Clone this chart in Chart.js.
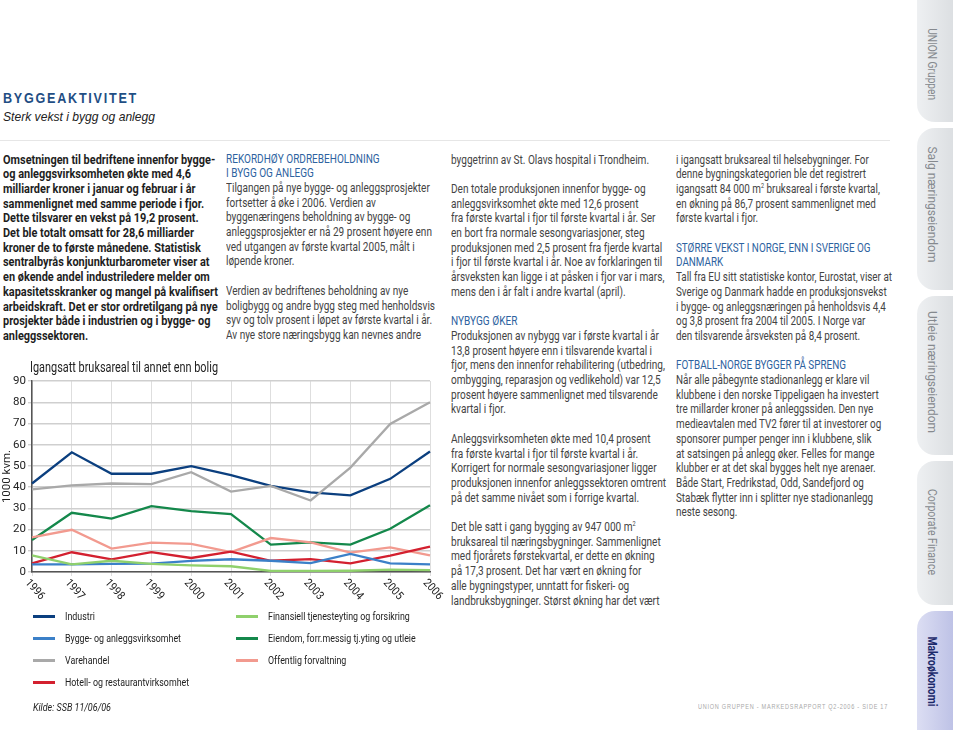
<!DOCTYPE html>
<html>
<head>
<meta charset="utf-8">
<script src="https://cdn.jsdelivr.net/npm/chart.js@4.4.1/dist/chart.umd.min.js"></script>
<style>
  html,body{margin:0;padding:0;background:#fff;}
  body{width:960px;height:730px;position:relative;overflow:hidden;font-family:'Roboto','Liberation Sans',sans-serif;}
  .abs{position:absolute;white-space:nowrap;}
  .col{position:absolute;white-space:nowrap;font-size:12.6px;line-height:14.7px;color:#444;}
  .col1{color:#1e1e1e;font-weight:bold;}
  .hd{color:#2d62a0;}
  sup{font-size:7px;line-height:0;vertical-align:5px;}
  .tab{position:absolute;left:917px;width:36px;border-radius:18px 0 0 18px;background:linear-gradient(90deg,#eef0f2,#dcdfe2);}
  .tabtxt{position:absolute;writing-mode:vertical-rl;font-size:12.5px;line-height:14px;color:#85898e;white-space:nowrap;}
  .leg{position:absolute;font-size:11.5px;line-height:14px;color:#222;white-space:nowrap;}
  .leg i{position:absolute;left:-32px;top:6px;width:22px;height:2.5px;}
  .leg span{display:inline-block;}
</style>
</head>
<body>
<div class="abs" style="left:0;top:140px;width:890px;height:1px;background:#e6e6e6"></div>
<div class="abs fit" data-w="135" style="left:3px;top:90px;font-family:'Liberation Sans',Arial,sans-serif;font-weight:bold;font-size:14.5px;letter-spacing:2px;color:#1f4e84">BYGGEAKTIVITET</div>
<div class="abs fit" data-w="152" style="left:3px;top:109px;font-family:'Liberation Sans',Arial,sans-serif;font-style:italic;font-size:13px;color:#222">Sterk vekst i bygg og anlegg</div>

<div class="col col1 fit" data-w="215" style="left:3px;top:152.5px">Omsetningen til bedriftene innenfor bygge-<br>og anleggsvirksomheten økte med 4,6<br>milliarder kroner i januar og februar i år<br>sammenlignet med samme periode i fjor.<br>Dette tilsvarer en vekst på 19,2 prosent.<br>Det ble totalt omsatt for 28,6 milliarder<br>kroner de to første månedene. Statistisk<br>sentralbyrås konjunkturbarometer viser at<br>en økende andel industriledere melder om<br>kapasitetsskranker og mangel på kvalifisert<br>arbeidskraft. Det er stor ordretilgang på nye<br>prosjekter både i industrien og i bygge- og<br>anleggssektoren.</div>

<div class="col fit" data-w="209" style="left:226px;top:151.5px"><span class="hd">REKORDHØY ORDREBEHOLDNING<br>I BYGG OG ANLEGG</span><br>Tilgangen på nye bygge- og anleggsprosjekter<br>fortsetter å øke i 2006. Verdien av<br>byggenæringens beholdning av bygge- og<br>anleggsprosjekter er nå 29 prosent høyere enn<br>ved utgangen av første kvartal 2005, målt i<br>løpende kroner.<br><br>Verdien av bedriftenes beholdning av nye<br>boligbygg og andre bygg steg med henholdsvis<br>syv og tolv prosent i løpet av første kvartal i år.<br>Av nye store næringsbygg kan nevnes andre</div>

<div class="col fit" data-w="215" style="left:451px;top:152.5px">byggetrinn av St. Olavs hospital i Trondheim.<br><br>Den totale produksjonen innenfor bygge- og<br>anleggsvirksomhet økte med 12,6 prosent<br>fra første kvartal i fjor til første kvartal i år. Ser<br>en bort fra normale sesongvariasjoner, steg<br>produksjonen med 2,5 prosent fra fjerde kvartal<br>i fjor til første kvartal i år. Noe av forklaringen til<br>årsveksten kan ligge i at påsken i fjor var i mars,<br>mens den i år falt i andre kvartal (april).<br><br><span class="hd">NYBYGG ØKER</span><br>Produksjonen av nybygg var i første kvartal i år<br>13,8 prosent høyere enn i tilsvarende kvartal i<br>fjor, mens den innenfor rehabilitering (utbedring,<br>ombygging, reparasjon og vedlikehold) var 12,5<br>prosent høyere sammenlignet med tilsvarende<br>kvartal i fjor.<br><br>Anleggsvirksomheten økte med 10,4 prosent<br>fra første kvartal i fjor til første kvartal i år.<br>Korrigert for normale sesongvariasjoner ligger<br>produksjonen innenfor anleggssektoren omtrent<br>på det samme nivået som i forrige kvartal.<br><br>Det ble satt i gang bygging av 947 000 m<sup>2</sup><br>bruksareal til næringsbygninger. Sammenlignet<br>med fjorårets førstekvartal, er dette en økning<br>på 17,3 prosent. Det har vært en økning for<br>alle bygningstyper, unntatt for fiskeri- og<br>landbruksbygninger. Størst økning har det vært</div>

<div class="col fit" data-w="216" style="left:676px;top:152.5px">i igangsatt bruksareal til helsebygninger. For<br>denne bygningskategorien ble det registrert<br>igangsatt 84 000 m<sup>2</sup> bruksareal i første kvartal,<br>en økning på 86,7 prosent sammenlignet med<br>første kvartal i fjor.<br><br><span class="hd">STØRRE VEKST I NORGE, ENN I SVERIGE OG<br>DANMARK</span><br>Tall fra EU sitt statistiske kontor, Eurostat, viser at<br>Sverige og Danmark hadde en produksjonsvekst<br>i bygge- og anleggsnæringen på henholdsvis 4,4<br>og 3,8 prosent fra 2004 til 2005. I Norge var<br>den tilsvarende årsveksten på 8,4 prosent.<br><br><span class="hd">FOTBALL-NORGE BYGGER PÅ SPRENG</span><br>Når alle påbegynte stadionanlegg er klare vil<br>klubbene i den norske Tippeligaen ha investert<br>tre millarder kroner på anleggssiden. Den nye<br>medieavtalen med TV2 fører til at investorer og<br>sponsorer pumper penger inn i klubbene, slik<br>at satsingen på anlegg øker. Felles for mange<br>klubber er at det skal bygges helt nye arenaer.<br>Både Start, Fredrikstad, Odd, Sandefjord og<br>Stabæk flytter inn i splitter nye stadionanlegg<br>neste sesong.</div>

<div class="tab" style="top:-20px;height:142px"></div>
<div class="tab" style="top:128px;height:162px"></div>
<div class="tab" style="top:296px;height:159px"></div>
<div class="tab" style="top:461px;height:144px"></div>
<div class="tab" style="top:611px;height:140px;background:linear-gradient(90deg,#dcdef3,#bec2e6)"></div>
<div class="tabtxt" data-cy="64" data-h="72">UNION Gruppen</div>
<div class="tabtxt" data-cy="204" data-h="116">Salg næringseiendom</div>
<div class="tabtxt" data-cy="372" data-h="122">Utleie næringseiendom</div>
<div class="tabtxt" data-cy="532" data-h="86">Corporate Finance</div>
<div class="tabtxt" data-cy="671" data-h="70" style="color:#1c2a6b;font-weight:bold">Makroøkonomi</div>

<div class="abs fit" data-w="190" style="left:698px;top:702px;font-family:'Liberation Sans',Arial,sans-serif;font-size:7.5px;letter-spacing:1px;color:#a9a9a9">UNION GRUPPEN - MARKEDSRAPPORT Q2-2006 - SIDE 17</div>

<div class="abs" style="left:0;top:350px;width:450px;height:260px"><canvas id="c" width="450" height="260"></canvas></div>
<div id="legend"></div>
<div class="abs fit" data-w="78" style="left:33px;top:700px;font-size:11.5px;font-style:italic;color:#222">Kilde: SSB 11/06/06</div>

<script>
const years = ['1996','1997','1998','1999','2000','2001','2002','2003','2004','2005','2006'];
const industri    = [41.7, 56.4, 46.3, 46.3, 49.9, 45.6, 40.6, 37.5, 36.1, 43.9, 56.8];
const bygge       = [3.6, 3.6, 3.8, 3.9, 5.2, 6.0, 5.3, 4.2, 8.5, 4.1, 3.6];
const varehandel  = [38.9, 40.8, 41.7, 41.4, 47.0, 37.9, 40.6, 33.7, 49.2, 69.8, 80.0];
const hotell      = [4.1, 9.3, 6.0, 9.4, 6.6, 9.6, 5.3, 6.1, 4.1, 7.7, 11.9];
const finansiell  = [7.8, 3.6, 5.3, 3.8, 3.1, 2.7, 0.5, 0.5, 0.6, 1.1, 0.9];
const eiendom     = [15.1, 27.9, 25.2, 31.0, 28.7, 27.3, 12.9, 14.0, 12.9, 20.4, 31.5];
const offentlig   = [16.3, 19.9, 11.0, 13.8, 13.3, 9.4, 16.0, 14.0, 9.1, 11.6, 7.8];
const seriesNames = ['Industri','Bygge- og anleggsvirksomhet','Varehandel','Hotell- og restaurantvirksomhet',
                     'Finansiell tjenesteyting og forsikring','Eiendom, forr.messig tj.yting og utleie','Offentlig forvaltning'];
const yTicks = [0,10,20,30,40,50,60,70,80,90];
const chartTitle = 'Igangsatt bruksareal til annet enn bolig';
const yTitle = '1000 kvm.';

// squeeze text blocks horizontally to imitate the condensed typeface
document.querySelectorAll('.fit').forEach(el => {
  const w = el.getBoundingClientRect().width;
  el.style.transformOrigin = '0 0';
  el.style.transform = 'scaleX(' + (parseFloat(el.dataset.w) / w) + ')';
});
document.querySelectorAll('.tabtxt').forEach(el => {
  const r = el.getBoundingClientRect();
  const s = parseFloat(el.dataset.h) / r.height;
  el.style.left = (932 - r.width / 2) + 'px';
  el.style.top = (parseFloat(el.dataset.cy) - r.height / 2) + 'px';
  el.style.transformOrigin = '50% 50%';
  el.style.transform = 'scaleY(' + s + ')';
});

const FONT = "'Roboto','Liberation Sans',sans-serif";
const colors = ['#0b3f7f','#3b80c8','#a9a9a9','#d3202f','#8fd06c','#14884b','#f29a8f'];
const values = [industri,bygge,varehandel,hotell,finansiell,eiendom,offentlig];
const order = [4,1,3,6,5,2,0];

const datasets = order.map(i => ({
  label: seriesNames[i], data: values[i], borderColor: colors[i], backgroundColor: colors[i],
  borderWidth: 2.3, pointRadius: 0, tension: 0, fill: false
}));

const decor = {
  id:'decor',
  afterDraw(chart){
    const ctx = chart.ctx, ca = chart.chartArea, xs = chart.scales.x;
    ctx.save();
    ctx.fillStyle = '#222';
    ctx.textAlign = 'left'; ctx.textBaseline = 'middle';
    ctx.save();
    ctx.font = "14px " + FONT;
    const tw = ctx.measureText(chartTitle).width;
    const sx = 188 / tw;
    ctx.scale(sx, 1);
    ctx.fillText(chartTitle, (ca.left - 2) / sx, ca.top - 13);
    ctx.restore();
    ctx.font = "11.5px " + FONT;
    years.forEach((y,i) => {
      const px = xs.getPixelForValue(i);
      ctx.save();
      ctx.translate(px - 5, ca.bottom + 9);
      ctx.rotate(48 * Math.PI / 180);
      ctx.scale(0.9, 1);
      ctx.fillText(y, 0, 0);
      ctx.restore();
    });
    ctx.restore();
  }
};

new Chart(document.getElementById('c'), {
  type:'line',
  data:{labels: years, datasets},
  options:{
    responsive:false, animation:false, devicePixelRatio:1,
    layout:{padding:{top:31,right:20,left:0,bottom:0}},
    plugins:{legend:{display:false}, tooltip:{enabled:false}, title:{display:false}},
    scales:{
      x:{
        offset:false,
        grid:{color:'#dedede', lineWidth:1, tickLength:4, drawTicks:true},
        border:{color:'#555', width:1.5},
        ticks:{display:false},
        afterFit(s){ s.height = 38; }
      },
      y:{
        min:0, max:90,
        ticks:{stepSize:5, padding:2, color:'#222', font:{family:FONT,size:11.5},
               callback:(v)=> yTicks.includes(v) ? String(v) : ''},
        grid:{color:(c)=> (c.tick && c.tick.value % 10 === 0) ? '#cfcfcf' : '#ececec',
              lineWidth:(c)=> (c.tick && c.tick.value % 10 === 0) ? 1.4 : 1, tickLength:4},
        border:{color:'#555', width:1.5},
        title:{display:true, text:yTitle, color:'#222', font:{family:FONT,size:11.5}, padding:{top:0,bottom:0}},
        afterFit(s){ s.width = 32; }
      }
    }
  },
  plugins:[decor]
});

// HTML legend from the series
const legPos = [[65,609],[65,631],[65,653],[65,675],[268,609],[268,631],[268,653]];
const lg = document.getElementById('legend');
seriesNames.forEach((n,i) => {
  const d = document.createElement('div');
  d.className = 'leg';
  d.style.left = legPos[i][0] + 'px';
  d.style.top = legPos[i][1] + 'px';
  const sw = document.createElement('i');
  sw.style.background = colors[i];
  const sp = document.createElement('span');
  sp.textContent = n;
  sp.style.transformOrigin = '0 50%';
  sp.style.transform = 'scaleX(0.77)';
  d.appendChild(sw); d.appendChild(sp);
  lg.appendChild(d);
});
</script>
</body>
</html>
